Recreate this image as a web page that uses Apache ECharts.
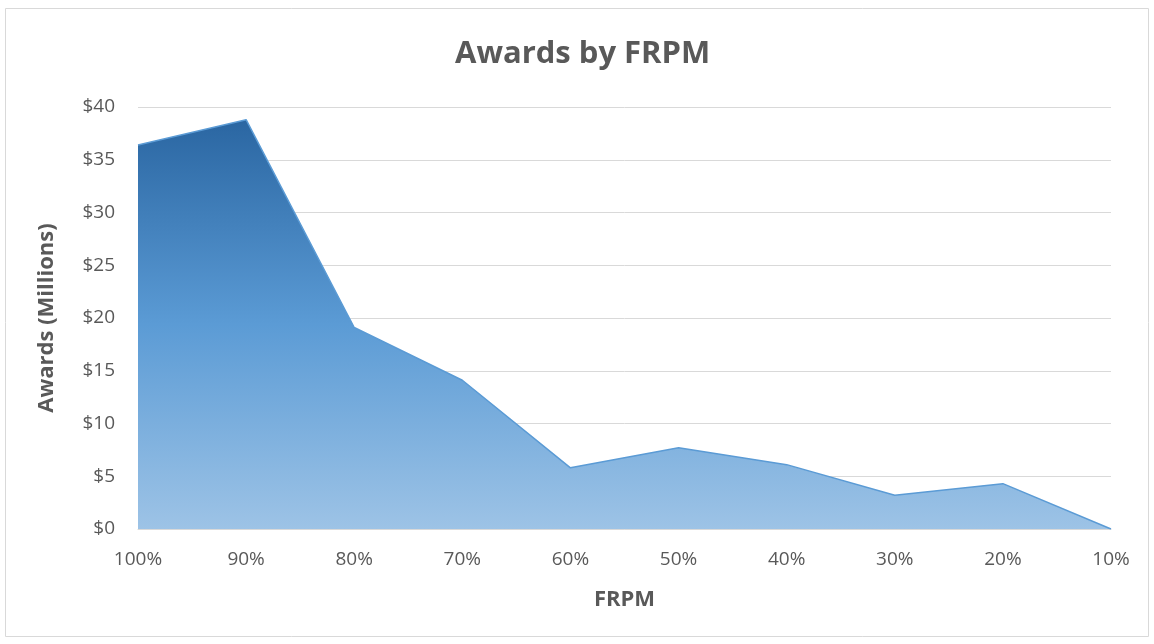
<!DOCTYPE html>
<html><head><meta charset="utf-8">
<script src="https://cdn.jsdelivr.net/npm/echarts@6/dist/echarts.min.js"></script>
<style>html,body{margin:0;padding:0;background:#fff}#c{width:1154px;height:644px}</style>
</head><body><div id="c"></div>
<script>
const categories = ['100%','90%','80%','70%','60%','50%','40%','30%','20%','10%'];
const awards = [36.4, 38.8, 19.1, 14.1, 5.8, 7.7, 6.1, 3.2, 4.3, 0];
const yTicks = [0, 5, 10, 15, 20, 25, 30, 35, 40];

const chart = echarts.init(document.getElementById('c'));
const font = '"Open Sans", sans-serif';
chart.setOption({
  animation: false,
  graphic: [{type:'rect', shape:{x:5.5,y:8.5,width:1143,height:628}, style:{fill:'none', stroke:'#d9d9d9', lineWidth:1}, silent:true}],
  title: {text:'Awards by FRPM', left:450, top:34, textStyle:{fontFamily:font, fontSize:31, fontWeight:'bold', color:'#595959'}},
  grid: {left:138, right:43, top:107, bottom:115},
  xAxis: {type:'category', data:categories, boundaryGap:false,
    name:'FRPM', nameLocation:'middle', nameGap:60,
    nameTextStyle:{fontFamily:font, fontSize:22, fontWeight:'bold', color:'#595959'},
    axisLine:{lineStyle:{color:'#d9d9d9', width:1}}, axisTick:{show:false},
    axisLabel:{fontFamily:font, fontSize:19, color:'#595959', margin:21}},
  yAxis: {type:'value', min:yTicks[0], max:yTicks[yTicks.length-1], interval:5,
    name:'Awards (Millions)', nameLocation:'middle', nameGap:80,
    nameTextStyle:{fontFamily:font, fontSize:22, fontWeight:'bold', color:'#595959'},
    axisLine:{show:false}, axisTick:{show:false},
    axisLabel:{fontFamily:font, fontSize:19, color:'#595959', margin:23, formatter:v=>'$'+v},
    splitLine:{lineStyle:{color:'#d9d9d9', width:1}}},
  series: [{type:'line', data:awards, symbol:'none',
    lineStyle:{color:'#5b9bd5', width:1.5},
    areaStyle:{opacity:1, color:new echarts.graphic.LinearGradient(0,0,0,1,[
      {offset:0, color:'#2a66a2'},{offset:0.5, color:'#5b9bd5'},{offset:1, color:'#9dc3e6'}])}}]
});
</script></body></html>
